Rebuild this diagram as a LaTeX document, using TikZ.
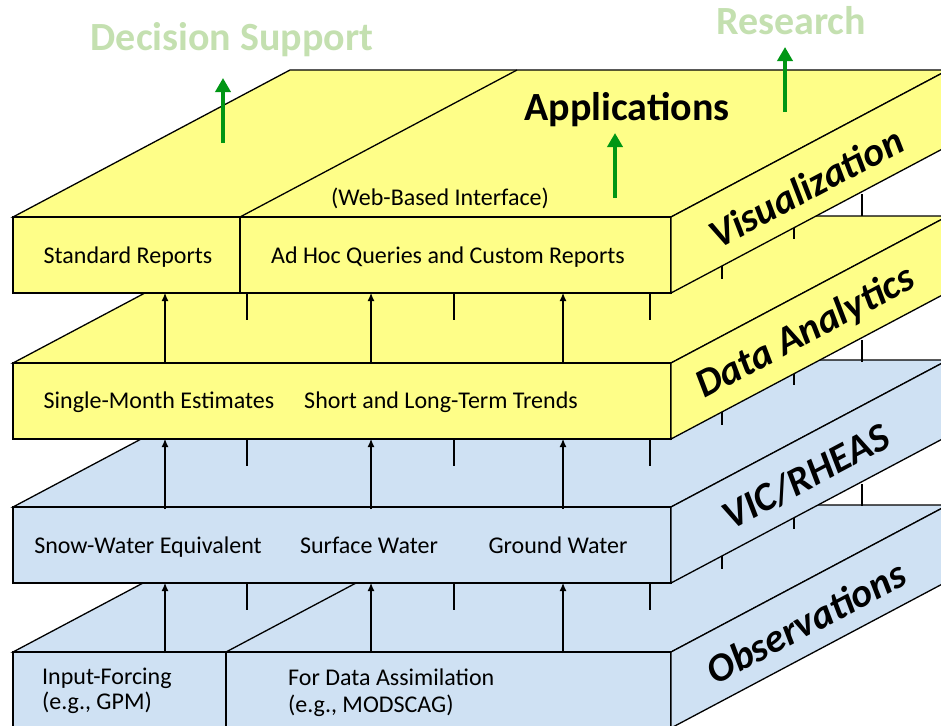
\documentclass[tikz,border=0pt]{standalone}
\usepackage{fontspec}
\setmainfont{Carlito}
\usetikzlibrary{calc,arrows.meta}
\definecolor{slabyellow}{RGB}{254,254,136}
\definecolor{slabblue}{RGB}{207,225,243}
\definecolor{paleGreen}{RGB}{196,224,176}
\definecolor{arrowGreen}{RGB}{0,150,20}

\begin{document}
\begin{tikzpicture}[x=1pt,y=-1pt,
    face/.style={draw=black,line width=1.3pt,line join=miter},
    txt/.style={font=\fontsize{24}{25}\selectfont,anchor=base,inner sep=0pt},
    side/.style={font=\fontsize{40}{40}\selectfont\bfseries\itshape,rotate=27.9,inner sep=0pt},
    feed/.style={-{Latex[length=8pt,width=7pt]},line width=1.1pt},
    post/.style={line width=1.1pt},
    lift/.style={-{Triangle[length=14pt,width=15pt]},line width=4.5pt,draw=arrowGreen,fill=arrowGreen},
    goal/.style={font=\fontsize{40}{40}\selectfont\bfseries,text=paleGreen,anchor=base,inner sep=0pt}]
\useasboundingbox (0,0) rectangle (941,725);
\clip (0,0) rectangle (941,725);

% layers, drawn from the bottom up
\foreach \t/\c/\n/\d/\lab [count=\i] in {652/slabblue/obs/226/Observations, 507/slabblue/vic/0/{VIC/RHEAS}, 363/slabyellow/dat/0/Data Analytics, 217/slabyellow/vis/240/Visualization}{
  \pgfmathsetmacro\b{\t+76}
  \ifnum\i>1
    % feeds from the layer below
    \foreach \x in {165,371,563}{
      \coordinate (\n in\x) at (\x,\t+146);
      \coordinate (\n up\x) at (\x,\b);
      \draw[feed] (\n in\x) -- (\n up\x);
    }
    % posts under the layer
    \foreach \x in {247,454,650}
      \draw[post] (\x,\b) -- ++(0,27);
    \draw[post] (722,\b-27) -- ++(0,13);
    \draw[post] (794,\b-65) -- ++(0,11);
    \draw[post] (862,\b-99) -- (862,\t-1);
  \fi
  \coordinate (\n fl) at (13,\t);
  \coordinate (\n fr) at (671,\t);
  \coordinate (\n bl) at (290,\t-147);
  \coordinate (\n br) at (948,\t-147);
  \filldraw[face,fill=\c] (\n fl) -- (\n bl) -- (\n br) -- (\n fr) -- cycle;
  \filldraw[face,fill=\c] (\n fl) rectangle (671,\b);
  \filldraw[face,fill=\c] (\n fr) -- (\n br) -- (948,\b-147) -- (671,\b) -- cycle;
  \ifnum\d>0
    \draw[face] (\d,\t) -- (\d+277,\t-147);
    \draw[face] (\d,\t) -- (\d,\b);
  \fi
  \node[side] (\n side) at (806,\t-30) {\lab};
}

% texts on the fronts
\node[txt] (stdrep) at (128,263) {Standard Reports};
\node[txt] (adhoc) at (448,263) {Ad Hoc Queries and Custom Reports};
\node[txt] (web) at (440,205) {(Web-Based Interface)};
\node[txt] (single) at (159,408) {Single-Month Estimates};
\node[txt] (trend) at (441,408) {Short and Long-Term Trends};
\node[txt] (swe) at (148,553) {Snow-Water Equivalent};
\node[txt] (surf) at (369,553) {Surface Water};
\node[txt] (ground) at (558,553) {Ground Water};
\node[txt,anchor=base west] (forcing) at (42,684) {Input-Forcing};
\node[txt,anchor=base west] (gpm) at (42,709) {(e.g., GPM)};
\node[txt,anchor=base west] (assim) at (288,685) {For Data Assimilation};
\node[txt,anchor=base west] (modscag) at (288,712) {(e.g., MODSCAG)};

% outputs
\node[goal] (decision) at (232,51) {Decision Support};
\node[goal] (research) at (791,35) {Research};
\node[font=\fontsize{40}{40}\selectfont\bfseries,anchor=base,inner sep=0pt] (apps) at (627,120) {Applications};
\coordinate (dec0) at (223,143); \coordinate (dec1) at (223,78);
\coordinate (res0) at (785,112); \coordinate (res1) at (785,47);
\coordinate (app0) at (615,198); \coordinate (app1) at (615,133);
\draw[lift] (dec0) -- (dec1);
\draw[lift] (res0) -- (res1);
\draw[lift] (app0) -- (app1);
\end{tikzpicture}
\end{document}
